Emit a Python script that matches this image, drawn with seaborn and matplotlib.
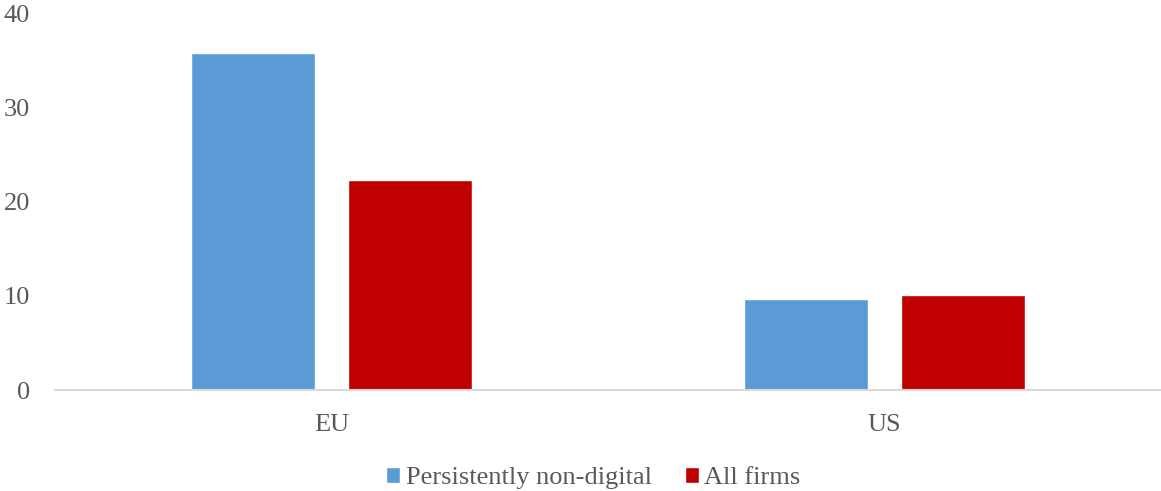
import matplotlib.pyplot as plt
import pandas as pd
import seaborn as sns
from matplotlib.patches import Patch

regions = ["EU", "US"]
series = ["Persistently non-digital", "All firms"]
non_digital = [35.9, 9.65]
all_firms = [22.3, 10.1]
colors = ["#5B9BD5", "#C00000"]

data = pd.DataFrame({
    "region": regions * 2,
    "group": [series[0]] * 2 + [series[1]] * 2,
    "value": non_digital + all_firms,
})

sns.set_theme(style="white")
plt.rcParams["font.family"] = ["Liberation Serif", "DejaVu Serif"]
text_color = "#595959"

fig = plt.figure(figsize=(11.61, 4.91), dpi=100)
ax = fig.add_axes([0.0474, 0.2057, 0.9526, 0.7658])
sns.barplot(data=data, x="region", y="value", hue="group", hue_order=series,
            palette=colors, width=0.567, gap=0.21, saturation=1,
            legend=False, ax=ax)

ax.set_xlim(-0.5, 1.5)
ax.set_ylim(0, 40)
ax.set_yticks([0, 10, 20, 30, 40])
ax.set_xlabel("")
ax.set_ylabel("")
ax.tick_params(axis="both", length=0, labelsize=19, colors=text_color)
ax.tick_params(axis="x", pad=17)
ax.tick_params(axis="y", pad=18)
for s in ["top", "right", "left"]:
    ax.spines[s].set_visible(False)
ax.spines["bottom"].set_color("#D9D9D9")
ax.spines["bottom"].set_linewidth(1.5)

handles = [Patch(facecolor=c, label=l) for c, l in zip(colors, series)]
fig.legend(handles=handles, loc="center", bbox_to_anchor=(0.511, 0.026),
           ncol=2, frameon=False, fontsize=19, handlelength=0.53,
           handleheight=0.53, handletextpad=0.2, columnspacing=1.25,
           labelcolor=text_color)

fig.savefig("out.png", dpi=100)
